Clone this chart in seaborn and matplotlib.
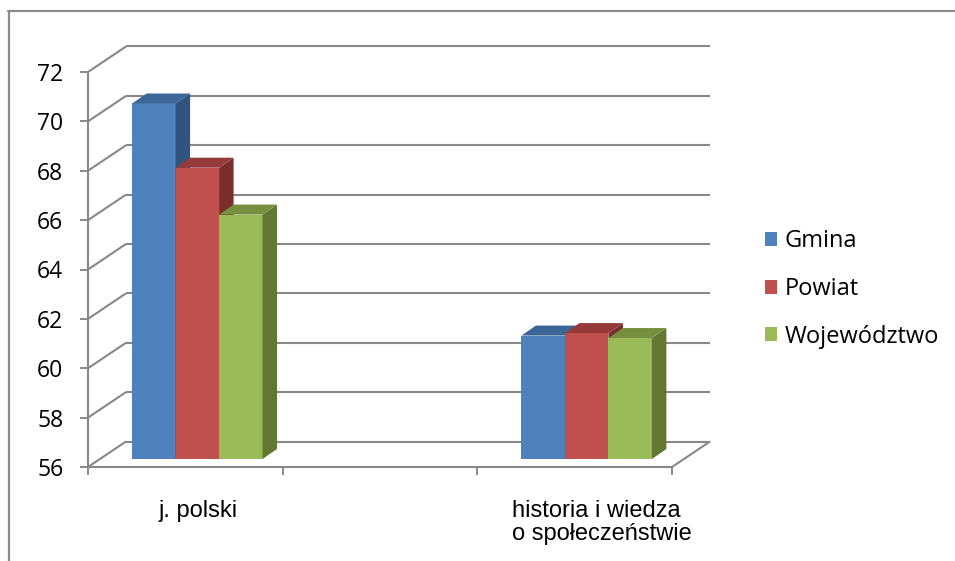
import numpy as np
import pandas as pd
import seaborn as sns

import matplotlib
matplotlib.use('Agg')
import matplotlib.pyplot as plt
from matplotlib.patches import Polygon, Patch
from matplotlib.lines import Line2D

# data
subjects = ["j. polski", "historia i wiedza\no społeczeństwie"]
levels = ["Gmina", "Powiat", "Województwo"]
gmina = [70.4, 61.0]
powiat = [67.8, 61.1]
wojewodztwo = [65.9, 60.9]
yticks = list(range(56, 73, 2))

front_colors = ["#4F81BD", "#C0504D", "#9BBB59"]
top_colors = ["#3D6698", "#953A38", "#76903F"]
side_colors = ["#30547F", "#7A2E2C", "#62772F"]
grid_color = "#888888"

df = pd.DataFrame({
    "przedmiot": subjects * 3,
    "poziom": [lv for lv in levels for _ in subjects],
    "wynik": gmina + powiat + wojewodztwo,
})
# empty middle slot, as in the original sheet
order = [subjects[0], " ", subjects[1]]

sns.set_theme(style="white")
plt.rcParams['font.family'] = ['Open Sans', 'DejaVu Sans']

W, H = 955, 561
fig = plt.figure(figsize=(W / 100, H / 100), dpi=100)
# front axis: x from 88 to 672 px, y from 467 (56) to 72 (72)
ax = fig.add_axes([88 / W, (H - 467) / H, 584 / W, 395 / H])

sns.barplot(data=df, x="przedmiot", y="wynik", hue="poziom", order=order,
            hue_order=levels, palette=front_colors, saturation=1, width=0.67,
            errorbar=None, legend=False, ax=ax)

ax.set_xlim(-0.5, 2.5)
ax.set_ylim(56, 72)
for s in ax.spines.values():
    s.set_visible(False)

# pixel -> data units
px_x = 3 / 584
px_y = 16 / 395

wall_dx, wall_dy = 38 * px_x, 25.5 * px_y
off_dx, off_dy = 12 * px_x, 8 * px_y
bar_dx, bar_dy = 14.5 * px_x, 10 * px_y

line_kw = dict(color=grid_color, lw=1.5, clip_on=False, zorder=1,
               solid_capstyle='butt')

# back wall gridlines and left wall diagonals
for v in yticks:
    ax.plot([-0.5 + wall_dx, 2.5 + wall_dx], [v + wall_dy, v + wall_dy], **line_kw)
    ax.plot([-0.5, -0.5 + wall_dx], [v, v + wall_dy], **line_kw)
# floor and y axis
ax.plot([-0.5, 2.5], [56, 56], **line_kw)
ax.plot([2.5, 2.5 + wall_dx], [56, 56 + wall_dy], **line_kw)
ax.plot([-0.5, -0.5], [56, 72], **line_kw)

# 3d look for the bars
for i, cont in enumerate(ax.containers):
    for p in cont.patches:
        h = p.get_height()
        if not np.isfinite(h) or h == 0:
            continue
        x0 = p.get_x() + off_dx
        x1 = x0 + p.get_width()
        y0 = 56 + off_dy
        y1 = h + off_dy
        p.set_x(x0)
        p.set_y(y0)
        p.set_height(h - 56)
        p.set_linewidth(0)
        p.set_clip_on(False)
        p.set_zorder(3 + i)
        side = Polygon([(x1, y0), (x1 + bar_dx, y0 + bar_dy),
                        (x1 + bar_dx, y1 + bar_dy), (x1, y1)],
                       closed=True, facecolor=side_colors[i], lw=0,
                       clip_on=False, zorder=3 + i)
        top = Polygon([(x0, y1), (x0 + bar_dx, y1 + bar_dy),
                       (x1 + bar_dx, y1 + bar_dy), (x1, y1)],
                      closed=True, facecolor=top_colors[i], lw=0,
                      clip_on=False, zorder=3 + i)
        ax.add_patch(side)
        ax.add_patch(top)

# ticks
ax.set_yticks(yticks)
ax.set_yticklabels([str(v) for v in yticks])
ax.tick_params(axis='y', left=True, length=5.8, width=1.4, color=grid_color,
               pad=12, labelsize=16.5, labelcolor="#000000")
ax.set_xticks([-0.5, 0.5, 1.5, 2.5])
ax.set_xticklabels([])
ax.tick_params(axis='x', bottom=True, length=5.8, width=1.4, color=grid_color)
ax.set_xlabel("")
ax.set_ylabel("")

# category labels
label_pos = [(0, 13), (2, 27)]
for (xi, dxp), name in zip(label_pos, subjects):
    ax.annotate(name, xy=(xi, 0), xycoords=ax.get_xaxis_transform(),
                xytext=(dxp * 0.72, -33 * 0.72), textcoords='offset points',
                ha='center', va='top', multialignment='left',
                family=['Liberation Sans', 'DejaVu Sans'], fontsize=17,
                linespacing=1.08, color="#000000")

# legend
handles = [Patch(facecolor=c, edgecolor='none') for c in front_colors]
fig.legend(handles, levels, loc='center left',
           bbox_to_anchor=(765 / W, 1 - 289 / H), frameon=False,
           fontsize=17, handlelength=0.52, handleheight=0.52,
           handletextpad=0.3, labelspacing=1.0, borderpad=0, borderaxespad=0,
           labelcolor="#000000")

# outer frame of the chart area
fig.add_artist(Line2D([8 / W, 1], [1 - 11 / H, 1 - 11 / H],
                      transform=fig.transFigure, color="#8c8c8c", lw=1.6))
fig.add_artist(Line2D([9 / W, 9 / W], [0, 1 - 11 / H],
                      transform=fig.transFigure, color="#8c8c8c", lw=1.6))

fig.savefig("out.png", dpi=100)
